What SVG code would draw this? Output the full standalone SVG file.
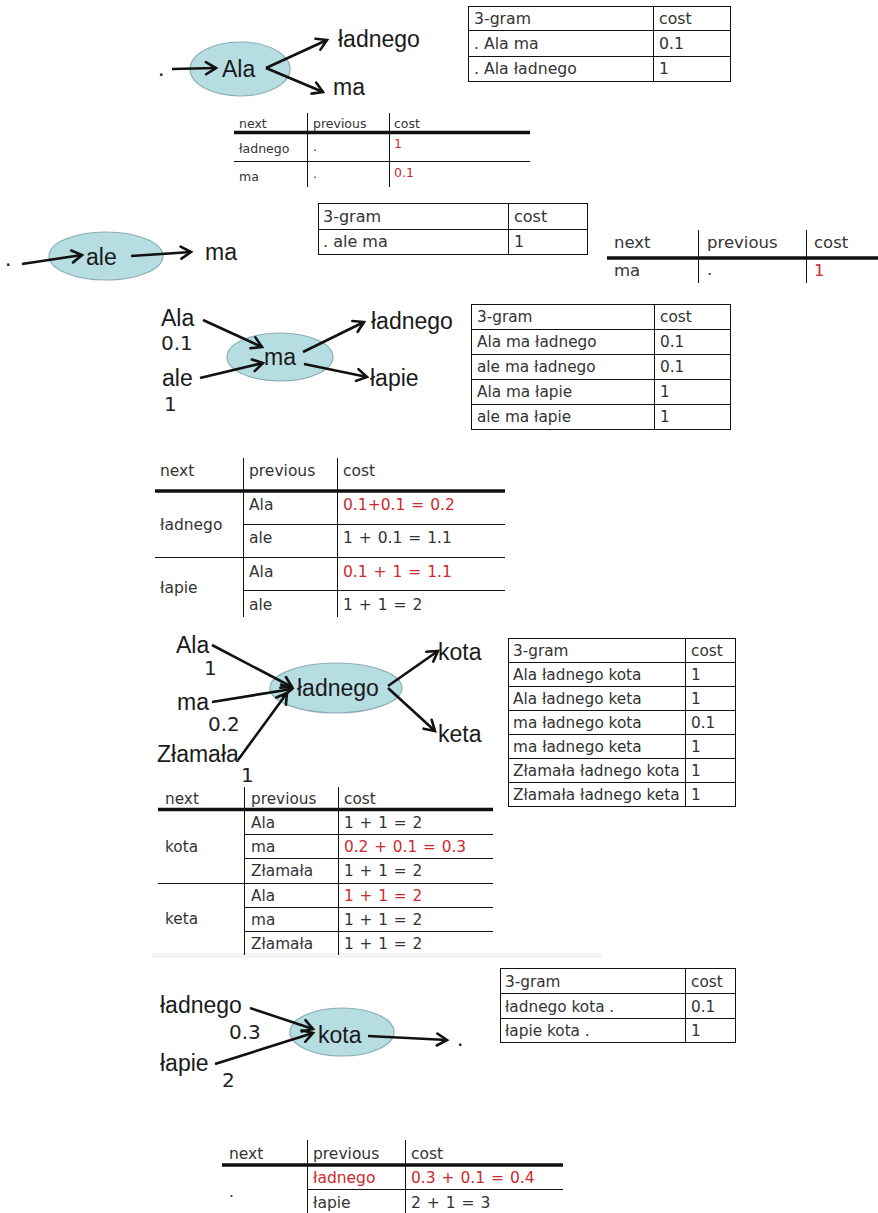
<svg xmlns="http://www.w3.org/2000/svg" width="878" height="1213" viewBox="0 0 878 1213">
<defs>
<marker id="ah" markerUnits="userSpaceOnUse" markerWidth="16" markerHeight="16" viewBox="0 0 16 16" refX="13" refY="8" orient="auto">
<path d="M3,2 L13,8 L3,14" fill="none" stroke="#111" stroke-width="2.6" stroke-linecap="round" stroke-linejoin="miter"/>
</marker>
<style>
.bg{fill:#fff}
.el{fill:#b6dde2;stroke:#8aaeb5;stroke-width:1.2}
.nt{font-family:"Liberation Sans",Arial,sans-serif;font-size:23px;fill:#1a1a1a}
.nn{font-family:"DejaVu Sans",Verdana,sans-serif;font-size:20px;fill:#222}
.tb{fill:none;stroke:#111;stroke-width:1}
.ln{stroke:#111;stroke-width:1}
.th{stroke:#111;stroke-width:3.5}
.t{font-family:"DejaVu Sans",Verdana,sans-serif;font-size:15.3px;fill:#333}
.ts{font-family:"DejaVu Sans",Verdana,sans-serif;font-size:12.5px;fill:#333}
.tl{font-family:"DejaVu Sans",Verdana,sans-serif;font-size:15.5px;fill:#333}
.f{word-spacing:1px}
.r{fill:#cc2a30}
.ar{fill:none;stroke:#111;stroke-width:2.6;marker-end:url(#ah)}
</style>
</defs>
<rect class="bg" x="0" y="0" width="878" height="1213"/>
<rect x="152" y="953" width="450" height="5" fill="#f4f4f4"/>

<!-- Section 1 -->
<g id="node-ala"><ellipse class="el" cx="240" cy="69" rx="50" ry="27"/><text class="nt" x="222" y="77">Ala</text></g>
<g id="label-dot1"><text class="nt" x="158" y="76">.</text></g>
<g id="label-ladnego1"><text class="nt" x="338" y="47">ładnego</text></g>
<g id="label-ma1"><text class="nt" x="333" y="95">ma</text></g>

<g id="table-3gram-1">
<rect class="tb" x="468.5" y="6.5" width="262" height="75"/>
<line class="ln" x1="468" y1="30.5" x2="731" y2="30.5"/>
<line class="ln" x1="468" y1="56.5" x2="731" y2="56.5"/>
<line class="ln" x1="653.5" y1="6" x2="653.5" y2="82"/>
<text class="t" x="474" y="24" style="font-size:15.7px">3-gram</text><text class="t" x="659" y="24" style="font-size:15.7px">cost</text>
<text class="t" x="474" y="49" style="font-size:15.7px">. Ala ma</text><text class="t" x="659" y="49" style="font-size:15.7px">0.1</text>
<text class="t" x="474" y="74" style="font-size:15.7px">. Ala ładnego</text><text class="t" x="659" y="74" style="font-size:15.7px">1</text>
</g>

<g id="table-next-1">
<line class="ln" x1="307.5" y1="113" x2="307.5" y2="187"/>
<line class="ln" x1="389.5" y1="113" x2="389.5" y2="187"/>
<line class="th" x1="234" y1="132.5" x2="530" y2="132.5"/>
<line class="ln" x1="234" y1="161.5" x2="530" y2="161.5"/>
<text class="ts" x="239" y="128">next</text><text class="ts" x="313" y="128">previous</text><text class="ts" x="394" y="128">cost</text>
<text class="ts" x="239" y="153">ładnego</text><text class="ts" x="313" y="151">.</text><text class="ts r" x="394" y="148">1</text>
<text class="ts" x="239" y="181">ma</text><text class="ts" x="313" y="178">.</text><text class="ts r" x="394" y="177">0.1</text>
</g>

<!-- Section 2 -->
<g id="node-ale"><ellipse class="el" cx="106" cy="256" rx="57" ry="24"/><text class="nt" x="86" y="265">ale</text></g>
<g id="label-dot2"><text class="nt" x="5" y="266">.</text></g>
<g id="label-ma2"><text class="nt" x="205" y="260">ma</text></g>

<g id="table-3gram-2">
<rect class="tb" x="318.5" y="203.5" width="269" height="51"/>
<line class="ln" x1="318" y1="229.5" x2="588" y2="229.5"/>
<line class="ln" x1="508.5" y1="203" x2="508.5" y2="255"/>
<text class="tl" x="323" y="222" style="font-size:16px">3-gram</text><text class="tl" x="514" y="222" style="font-size:16px">cost</text>
<text class="tl" x="323" y="247" style="font-size:16px">. ale ma</text><text class="tl" x="514" y="247" style="font-size:16px">1</text>
</g>

<g id="table-next-2">
<line class="ln" x1="698.5" y1="230" x2="698.5" y2="283"/>
<line class="ln" x1="806.5" y1="230" x2="806.5" y2="283"/>
<line class="th" x1="607" y1="258" x2="878" y2="258"/>
<text class="tl" x="614" y="248" style="font-size:16.5px">next</text><text class="tl" x="707" y="248" style="font-size:16.5px">previous</text><text class="tl" x="814" y="248" style="font-size:16.5px">cost</text>
<text class="tl" x="614" y="276" style="font-size:16.5px">ma</text><text class="tl" x="707" y="275" style="font-size:16.5px">.</text><text class="tl r" x="814" y="276" style="font-size:16.5px">1</text>
</g>

<!-- Section 3 -->
<g id="node-ma"><ellipse class="el" cx="280" cy="357" rx="53" ry="24"/><text class="nt" x="264" y="365">ma</text></g>
<g id="label-ala3"><text class="nt" x="161" y="326">Ala</text><text class="nn" x="161" y="350">0.1</text></g>
<g id="label-ale3"><text class="nt" x="162" y="386">ale</text><text class="nn" x="164" y="411">1</text></g>
<g id="label-ladnego3"><text class="nt" x="371" y="329">ładnego</text></g>
<g id="label-lapie3"><text class="nt" x="370" y="386">łapie</text></g>

<g id="table-3gram-3">
<rect class="tb" x="471.5" y="304.5" width="259" height="125"/>
<line class="ln" x1="471" y1="329.5" x2="731" y2="329.5"/>
<line class="ln" x1="471" y1="354.5" x2="731" y2="354.5"/>
<line class="ln" x1="471" y1="379.5" x2="731" y2="379.5"/>
<line class="ln" x1="471" y1="404.5" x2="731" y2="404.5"/>
<line class="ln" x1="654.5" y1="304" x2="654.5" y2="430"/>
<text class="t" x="477" y="322">3-gram</text><text class="t" x="660" y="322">cost</text>
<text class="t" x="477" y="347">Ala ma ładnego</text><text class="t" x="660" y="347">0.1</text>
<text class="t" x="477" y="372">ale ma ładnego</text><text class="t" x="660" y="372">0.1</text>
<text class="t" x="477" y="397">Ala ma łapie</text><text class="t" x="660" y="397">1</text>
<text class="t" x="477" y="422">ale ma łapie</text><text class="t" x="660" y="422">1</text>
</g>

<g id="table-next-3">
<line class="ln" x1="243.5" y1="458" x2="243.5" y2="617"/>
<line class="ln" x1="337.5" y1="458" x2="337.5" y2="617"/>
<line class="th" x1="155" y1="491" x2="505" y2="491"/>
<line class="ln" x1="243" y1="524.5" x2="505" y2="524.5"/>
<line class="ln" x1="155" y1="557.5" x2="505" y2="557.5"/>
<line class="ln" x1="243" y1="590.5" x2="505" y2="590.5"/>
<text class="tl" x="160" y="476">next</text><text class="tl" x="249" y="476">previous</text><text class="tl" x="343" y="476">cost</text>
<text class="tl" x="160" y="530">ładnego</text>
<text class="tl" x="249" y="510">Ala</text><text class="tl r f" x="343" y="510">0.1+0.1 = 0.2</text>
<text class="tl" x="249" y="543">ale</text><text class="tl f" x="343" y="543">1 + 0.1 = 1.1</text>
<text class="tl" x="160" y="593">łapie</text>
<text class="tl" x="249" y="577">Ala</text><text class="tl r f" x="343" y="577">0.1 + 1 = 1.1</text>
<text class="tl" x="249" y="610">ale</text><text class="tl f" x="343" y="610">1 + 1 = 2</text>
</g>

<!-- Section 4 -->
<g id="node-ladnego"><ellipse class="el" cx="336" cy="688" rx="66" ry="25"/><text class="nt" x="297" y="696">ładnego</text></g>
<g id="label-ala4"><text class="nt" x="176" y="653">Ala</text><text class="nn" x="204" y="675">1</text></g>
<g id="label-ma4"><text class="nt" x="177" y="710">ma</text><text class="nn" x="208" y="731">0.2</text></g>
<g id="label-zlamala4"><text class="nt" x="157" y="762">Złamała</text><text class="nn" x="241" y="782">1</text></g>
<g id="label-kota4"><text class="nt" x="438" y="660">kota</text></g>
<g id="label-keta4"><text class="nt" x="438" y="742">keta</text></g>

<g id="table-3gram-4">
<rect class="tb" x="508.5" y="638.5" width="227" height="168"/>
<line class="ln" x1="508" y1="662.5" x2="736" y2="662.5"/>
<line class="ln" x1="508" y1="686.5" x2="736" y2="686.5"/>
<line class="ln" x1="508" y1="710.5" x2="736" y2="710.5"/>
<line class="ln" x1="508" y1="734.5" x2="736" y2="734.5"/>
<line class="ln" x1="508" y1="758.5" x2="736" y2="758.5"/>
<line class="ln" x1="508" y1="782.5" x2="736" y2="782.5"/>
<line class="ln" x1="685.5" y1="638" x2="685.5" y2="807"/>
<text class="t" x="513" y="656">3-gram</text><text class="t" x="691" y="656">cost</text>
<text class="t" x="513" y="680">Ala ładnego kota</text><text class="t" x="691" y="680">1</text>
<text class="t" x="513" y="704">Ala ładnego keta</text><text class="t" x="691" y="704">1</text>
<text class="t" x="513" y="728">ma ładnego kota</text><text class="t" x="691" y="728">0.1</text>
<text class="t" x="513" y="752">ma ładnego keta</text><text class="t" x="691" y="752">1</text>
<text class="t" x="513" y="776">Złamała ładnego kota</text><text class="t" x="691" y="776">1</text>
<text class="t" x="513" y="800">Złamała ładnego keta</text><text class="t" x="691" y="800">1</text>
</g>

<g id="table-next-4">
<line class="ln" x1="244.5" y1="787" x2="244.5" y2="955"/>
<line class="ln" x1="338.5" y1="787" x2="338.5" y2="955"/>
<line class="th" x1="158" y1="809.5" x2="493" y2="809.5"/>
<line class="ln" x1="244" y1="834.5" x2="493" y2="834.5"/>
<line class="ln" x1="244" y1="858.5" x2="493" y2="858.5"/>
<line class="ln" x1="158" y1="883.5" x2="493" y2="883.5"/>
<line class="ln" x1="244" y1="907.5" x2="493" y2="907.5"/>
<line class="ln" x1="244" y1="931.5" x2="493" y2="931.5"/>
<text class="t" x="165" y="804">next</text><text class="t" x="251" y="804">previous</text><text class="t" x="344" y="804">cost</text>
<text class="t" x="165" y="852">kota</text>
<text class="t" x="251" y="828">Ala</text><text class="t f" x="344" y="828">1 + 1 = 2</text>
<text class="t" x="251" y="852">ma</text><text class="t r f" x="344" y="852">0.2 + 0.1 = 0.3</text>
<text class="t" x="251" y="876">Złamała</text><text class="t f" x="344" y="876">1 + 1 = 2</text>
<text class="t" x="165" y="924">keta</text>
<text class="t" x="251" y="901">Ala</text><text class="t r f" x="344" y="901">1 + 1 = 2</text>
<text class="t" x="251" y="925">ma</text><text class="t f" x="344" y="925">1 + 1 = 2</text>
<text class="t" x="251" y="949">Złamała</text><text class="t f" x="344" y="949">1 + 1 = 2</text>
</g>

<!-- Section 5 -->
<g id="node-kota"><ellipse class="el" cx="342" cy="1032" rx="52" ry="24"/><text class="nt" x="318" y="1043">kota</text></g>
<g id="label-ladnego5"><text class="nt" x="160" y="1013">ładnego</text><text class="nn" x="229" y="1039">0.3</text></g>
<g id="label-lapie5"><text class="nt" x="160" y="1071">łapie</text><text class="nn" x="222" y="1087">2</text></g>
<g id="label-dot5"><text class="nt" x="457" y="1046">.</text></g>

<g id="table-3gram-5">
<rect class="tb" x="500.5" y="968.5" width="235" height="74"/>
<line class="ln" x1="500" y1="993.5" x2="736" y2="993.5"/>
<line class="ln" x1="500" y1="1018.5" x2="736" y2="1018.5"/>
<line class="ln" x1="685.5" y1="968" x2="685.5" y2="1043"/>
<text class="t" x="505" y="987">3-gram</text><text class="t" x="691" y="987">cost</text>
<text class="t" x="505" y="1012">ładnego kota .</text><text class="t" x="691" y="1012">0.1</text>
<text class="t" x="505" y="1036">łapie kota .</text><text class="t" x="691" y="1036">1</text>
</g>

<g id="table-next-5">
<line class="ln" x1="307.5" y1="1140" x2="307.5" y2="1213"/>
<line class="ln" x1="405.5" y1="1140" x2="405.5" y2="1213"/>
<line class="th" x1="222" y1="1165" x2="563" y2="1165"/>
<line class="ln" x1="307" y1="1189.5" x2="563" y2="1189.5"/>
<text class="tl" x="229" y="1159">next</text><text class="tl" x="313" y="1159">previous</text><text class="tl" x="411" y="1159">cost</text>
<text class="tl" x="229" y="1197">.</text>
<text class="tl r" x="313" y="1183">ładnego</text><text class="tl r f" x="411" y="1183">0.3 + 0.1 = 0.4</text>
<text class="tl" x="313" y="1208">łapie</text><text class="tl f" x="411" y="1208">2 + 1 = 3</text>
</g>

<g id="connectors">
<path class="ar" d="M172,69 L216,68"/>
<path class="ar" d="M266,68 L327,40"/>
<path class="ar" d="M266,68 L323,92"/>
<path class="ar" d="M22,264 L82,255"/>
<path class="ar" d="M131,256 L191,252"/>
<path class="ar" d="M203,320 L262,347"/>
<path class="ar" d="M200,378 L263,363"/>
<path class="ar" d="M303,352 L364,322"/>
<path class="ar" d="M304,364 L367,377"/>
<path class="ar" d="M212,645 L292,687"/>
<path class="ar" d="M212,702 L292,689"/>
<path class="ar" d="M238,760 L287,693"/>
<path class="ar" d="M388,686 L438,651"/>
<path class="ar" d="M388,688 L435,731"/>
<path class="ar" d="M250,1008 L313,1029"/>
<path class="ar" d="M215,1064 L313,1033"/>
<path class="ar" d="M368,1036 L447,1040"/>
</g>
</svg>
